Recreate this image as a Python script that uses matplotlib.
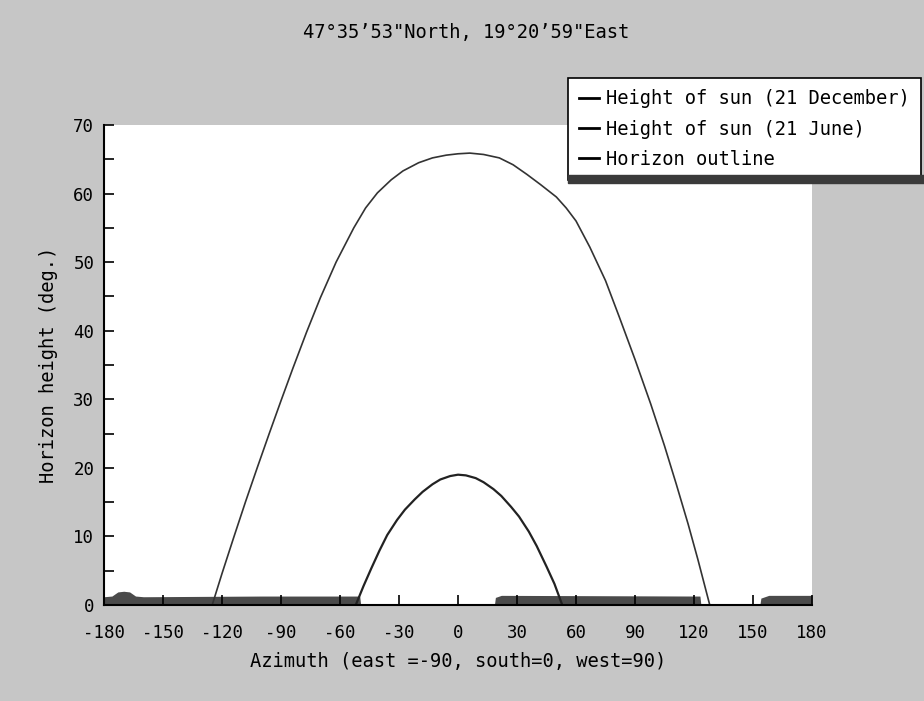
import matplotlib
matplotlib.use('Agg')
import matplotlib.pyplot as plt
from matplotlib.patches import Rectangle
from matplotlib.ticker import MultipleLocator

plt.rcParams['font.family'] = ['DejaVu Sans Mono', 'DejaVu Sans']
plt.rcParams['axes.unicode_minus'] = False

title = '47°35\u201953"North, 19°20\u201959"East'
xlabel = 'Azimuth (east =-90, south=0, west=90)'
ylabel = 'Horizon height (deg.)'
labels = ['Height of sun (21 December)', 'Height of sun (21 June)', 'Horizon outline']
xticks = [-180, -150, -120, -90, -60, -30, 0, 30, 60, 90, 120, 150, 180]

# sun path, 21 December (azimuth, height)
dec_az = [-52, -48, -44, -40, -36, -31, -27, -22, -18, -13, -9, -4, 0,
          4, 9, 13, 18, 22, 27, 31, 36, 40, 45, 49, 53]
dec_h = [0, 2.8, 5.4, 7.9, 10.2, 12.4, 13.9, 15.4, 16.5, 17.6, 18.3, 18.8, 19.0,
         18.9, 18.5, 17.9, 16.9, 15.9, 14.3, 12.9, 10.7, 8.6, 5.6, 3.1, 0]

# sun path, 21 June
jun_az = [-125, -120, -114, -108, -102, -96, -90, -84, -77, -70, -62, -53, -47,
          -41, -34, -28, -20, -13, -6, 0, 6, 13, 21, 28, 35, 42, 50, 55, 60,
          67, 75, 82, 90, 98, 105, 111, 117, 122, 128]
jun_h = [0, 4.6, 9.9, 15.1, 20.1, 25.0, 29.8, 34.5, 39.8, 44.8, 50.0, 55.0, 57.9,
         60.1, 62.0, 63.3, 64.5, 65.2, 65.6, 65.8, 65.9, 65.7, 65.2, 64.2, 62.8,
         61.3, 59.5, 57.9, 56.0, 52.2, 47.3, 42.0, 35.8, 29.3, 23.2, 17.6, 11.8,
         6.6, 0]

# horizon outline
hor_az = [-180, -176, -173, -170, -167, -164, -160, -100, -50, -49.5, 18.5, 19, 22,
          123, 123.5, 153.5, 154, 158, 180]
hor_h = [1.2, 1.3, 1.9, 2.0, 1.9, 1.3, 1.2, 1.3, 1.3, 0, 0, 1.1, 1.4,
         1.3, 0, 0, 1.0, 1.4, 1.4]

bg = '#c6c6c6'
fig = plt.figure(figsize=(9.24, 7.01), dpi=100, facecolor=bg)
ax = fig.add_axes([0.1126, 0.137, 0.7662, 0.6847])
ax.set_facecolor('white')

ax.fill_between(hor_az, 0, hor_h, color='#4a4a4a', lw=0)
ax.plot(dec_az, dec_h, color='#222222', lw=1.6)
ax.plot(jun_az, jun_h, color='#333333', lw=1.2)

ax.set_xlim(-180, 180)
ax.set_ylim(0, 70)
ax.set_xticks(xticks)
ax.yaxis.set_major_locator(MultipleLocator(10))
ax.yaxis.set_minor_locator(MultipleLocator(5))
ax.tick_params(axis='both', which='both', direction='in', length=7, width=1.2,
               labelsize=12.5, colors='black')
ax.tick_params(axis='x', pad=14)
ax.tick_params(axis='y', pad=7)
ax.tick_params(top=False, right=False)
for s in ['top', 'right']:
    ax.spines[s].set_visible(False)
for s in ['left', 'bottom']:
    ax.spines[s].set_linewidth(1.5)

ax.set_xlabel(xlabel, fontsize=13.5, labelpad=7)
ax.set_ylabel(ylabel, fontsize=13.5, labelpad=11)
fig.text(0.504, 0.953, title, ha='center', va='center', fontsize=13.5)

handles = [plt.Line2D([], [], color='black', lw=2) for _ in labels]
leg = fig.legend(handles, labels, loc='upper left', bbox_to_anchor=(0.6147, 0.8887),
                 fontsize=13.5, frameon=True, fancybox=False, framealpha=1,
                 edgecolor='black', handlelength=1.05, handletextpad=0.4,
                 labelspacing=0.6, borderpad=0.6, borderaxespad=0)
leg.get_frame().set_linewidth(1.2)

# legend shadow bar along the bottom edge
fig.add_artist(Rectangle((0.6147, 0.739), 0.39, 0.012, transform=fig.transFigure,
                         color='#3a3a3a', zorder=6))

fig.savefig('out.png', dpi=100, facecolor=bg)
